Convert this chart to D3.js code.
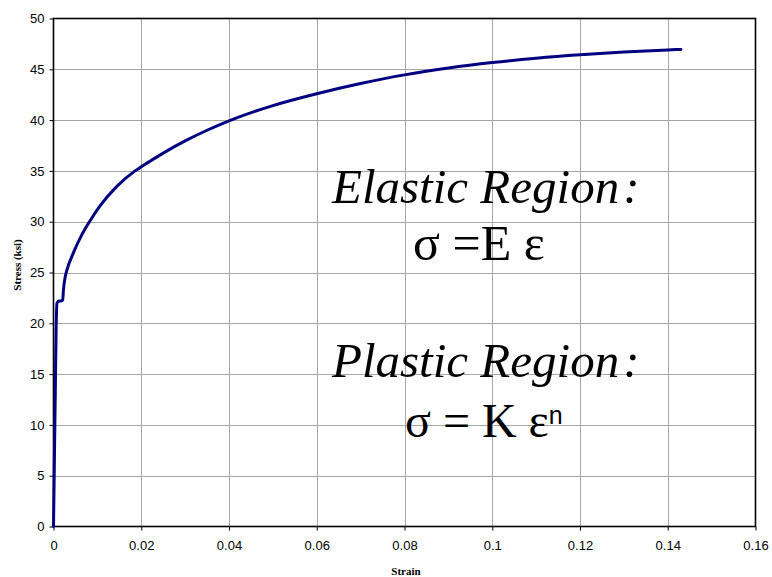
<!DOCTYPE html>
<html>
<head>
<meta charset="utf-8">
<script src="https://cdn.jsdelivr.net/npm/d3@7"></script>
<style>
  html, body { margin: 0; padding: 0; background: #fff; }
  svg { display: block; }
</style>
</head>
<body>
<svg id="chart" width="772" height="577"></svg>
<script>
// Engineering stress-strain curve for a ductile steel specimen
const strain = [0, 0.0002, 0.0004, 0.0006, 0.0008, 0.0012, 0.0017, 0.0021, 0.00225, 0.0026, 0.003, 0.0046, 0.0065, 0.0082, 0.0106, 0.0145, 0.0186, 0.02, 0.025, 0.03, 0.035, 0.04, 0.05, 0.06, 0.07, 0.08, 0.09, 0.10, 0.11, 0.12, 0.13, 0.14, 0.143];
const stress = [0, 6.5, 13, 19.5, 22.0, 22.2, 22.2, 22.3, 23.2, 24.4, 25.15, 27.0, 28.75, 30.0, 31.55, 33.5, 35.0, 35.4, 36.75, 37.95, 39.0, 39.93, 41.43, 42.6, 43.6, 44.45, 45.12, 45.66, 46.09, 46.43, 46.7, 46.91, 46.96];

const xTicks = [0, 0.02, 0.04, 0.06, 0.08, 0.1, 0.12, 0.14, 0.16];
const yTicks = [0, 5, 10, 15, 20, 25, 30, 35, 40, 45, 50];

const svg = d3.select("#chart");
const m = { left: 53.5, top: 18.5, right: 755.5, bottom: 526.5 };

const x = d3.scaleLinear().domain([0, 0.16]).range([m.left, m.right]);
const y = d3.scaleLinear().domain([0, 50]).range([m.bottom, m.top]);

// gridlines
svg.append("g").selectAll("line").data(yTicks.slice(1, -1)).join("line")
  .attr("x1", m.left).attr("x2", m.right)
  .attr("y1", d => Math.round(y(d)) + 0.5).attr("y2", d => Math.round(y(d)) + 0.5)
  .attr("stroke", "#a6a6a6").attr("stroke-width", 1);
svg.append("g").selectAll("line").data(xTicks.slice(1, -1)).join("line")
  .attr("y1", m.top).attr("y2", m.bottom)
  .attr("x1", d => Math.round(x(d)) + 0.5).attr("x2", d => Math.round(x(d)) + 0.5)
  .attr("stroke", "#a6a6a6").attr("stroke-width", 1);

// axes
const fmtX = d => d === 0 ? "0" : String(+d.toFixed(2));
const xAxis = d3.axisBottom(x).tickValues(xTicks).tickFormat(fmtX).tickSize(4).tickSizeOuter(0).tickPadding(10);
const yAxis = d3.axisLeft(y).tickValues(yTicks).tickSize(4).tickSizeOuter(0).tickPadding(5);

const gx = svg.append("g").attr("transform", `translate(0,${m.bottom})`).call(xAxis);
const gy = svg.append("g").attr("transform", `translate(${m.left},0)`).call(yAxis);
[gx, gy].forEach(g => {
  g.select(".domain").remove();
  g.selectAll(".tick line").attr("stroke", "#000");
  g.selectAll(".tick text").attr("fill", "#000")
    .style("font-family", "'Liberation Sans', Arial, sans-serif").style("font-size", "13px");
});

// plot frame
svg.append("rect")
  .attr("x", m.left).attr("y", m.top)
  .attr("width", m.right - m.left).attr("height", m.bottom - m.top)
  .attr("fill", "none").attr("stroke", "#000").attr("stroke-width", 1.6);

// curve
const line = d3.line().x((d, i) => x(strain[i])).y(d => y(d)).curve(d3.curveMonotoneX);
svg.append("path").datum(stress)
  .attr("d", line)
  .attr("fill", "none").attr("stroke", "#000080").attr("stroke-width", 3)
  .attr("stroke-linejoin", "round").attr("stroke-linecap", "round");

// axis titles
const serif = "'Liberation Serif', 'Times New Roman', serif";
svg.append("text")
  .attr("transform", "translate(21,265) rotate(-90)")
  .attr("text-anchor", "middle")
  .style("font-family", serif)
  .style("font-weight", "bold").style("font-size", "11px")
  .text("Stress (ksi)");
svg.append("text")
  .attr("x", 406).attr("y", 575)
  .attr("text-anchor", "middle")
  .style("font-family", serif)
  .style("font-weight", "bold").style("font-size", "11px")
  .text("Strain");

// annotations
const big = "49px";
function regionLabel(txt, yPos) {
  const t = svg.append("text").attr("x", 332).attr("y", yPos)
    .style("font-family", serif).style("font-style", "italic").style("font-size", big);
  t.append("tspan").text(txt);
  t.append("tspan").attr("dx", 4).text(":");
}
regionLabel("Elastic Region", 203);
svg.append("text").attr("x", 413).attr("y", 260)
  .style("font-family", serif).style("font-size", "50px")
  .text("σ =E ε");
regionLabel("Plastic Region", 377);
const pl = svg.append("text").attr("x", 405).attr("y", 437)
  .style("font-family", serif).style("font-size", "48px");
pl.append("tspan").text("σ = K ε");
pl.append("tspan").attr("dy", -13)
  .style("font-family", "'Liberation Sans', Arial, sans-serif").style("font-size", "25px")
  .text("n");
</script>
</body>
</html>
